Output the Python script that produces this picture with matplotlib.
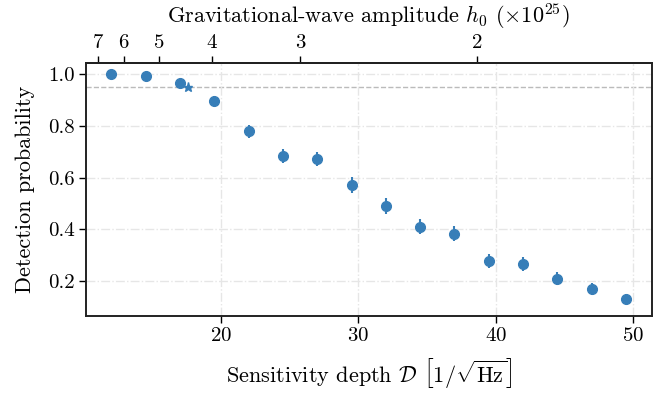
import matplotlib
matplotlib.use("Agg")
import matplotlib.pyplot as plt
import numpy as np

plt.rcParams['font.family'] = 'serif'
plt.rcParams['font.serif'] = ['cmr10']
plt.rcParams['mathtext.fontset'] = 'cm'
plt.rcParams['axes.formatter.use_mathtext'] = True

# Data
depth = [12, 14.5, 17, 19.5, 22, 24.5, 27, 29.5, 32, 34.5, 37, 39.5, 42, 44.5, 47, 49.5]
prob = [1.0, 0.991, 0.967, 0.895, 0.778, 0.683, 0.671, 0.571, 0.490, 0.410, 0.384,
        0.278, 0.267, 0.210, 0.170, 0.130]
prob_err = [0.004, 0.008, 0.012, 0.019, 0.025, 0.028, 0.028, 0.030, 0.030, 0.029, 0.029,
            0.026, 0.026, 0.024, 0.022, 0.020]
star_depth = [17.6]
star_prob = [0.95]
threshold = 0.95
h0_const = 77.3  # h0 (x1e25) * depth
h0_ticks = [2, 3, 4, 5, 6, 7]

color = '#377eb8'

fig = plt.figure(figsize=(6.7, 3.96), dpi=100)
ax = fig.add_axes([0.128, 0.202, 0.9727 - 0.128, 0.8417 - 0.202])

ax.grid(True, color='#e6e6e6', linestyle='-.', linewidth=1.0, zorder=0)
ax.axhline(threshold, color='#bbbbbb', linestyle='--', linewidth=1.0, zorder=1)

ax.errorbar(depth, prob, yerr=prob_err, fmt='o', color=color, markersize=7,
            elinewidth=1.5, capsize=0, zorder=3)
ax.plot(star_depth, star_prob, '*', color=color, markersize=6.5, zorder=3)

ax.set_xlim(10.125, 51.375)
ax.set_ylim(0.0655, 1.0435)
ax.set_xticks([20, 30, 40, 50])
ax.set_yticks([0.2, 0.4, 0.6, 0.8, 1.0])
ax.set_yticklabels(['0.2', '0.4', '0.6', '0.8', '1.0'])

ax.set_xlabel(r'Sensitivity depth $\mathcal{D}$ $\left[1/\sqrt{\mathrm{Hz}}\right]$', fontsize=16, labelpad=8)
ax.set_ylabel('Detection probability', fontsize=16, labelpad=9)
ax.tick_params(axis='both', which='major', labelsize=15, direction='out', length=5,
               width=1.0, color='black', pad=3)

for s in ax.spines.values():
    s.set_linewidth(1.4)
    s.set_color('#222222')

def d2h(d):
    d = np.asarray(d, dtype=float)
    with np.errstate(divide='ignore'):
        return h0_const / d

sec = ax.secondary_xaxis('top', functions=(d2h, d2h))
sec.set_xticks(h0_ticks)
sec.set_xticklabels([str(t) for t in h0_ticks])
sec.tick_params(labelsize=15, direction='out', length=5, width=1.0, pad=3)
sec.minorticks_off()
sec.set_xlabel(r'Gravitational-wave amplitude $h_0$ $(\times 10^{25})$', fontsize=16, labelpad=8)
sec.spines['top'].set_linewidth(1.4)

fig.savefig('out.png', dpi=100)
